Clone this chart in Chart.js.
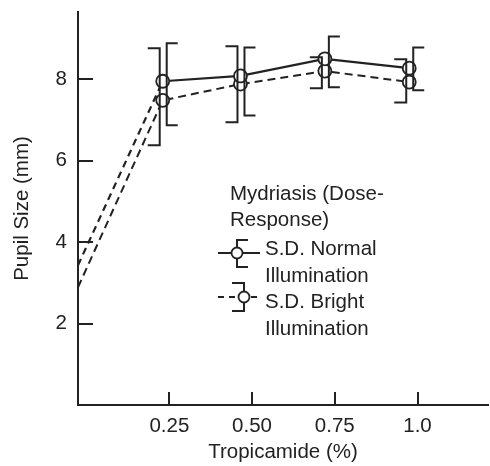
<!DOCTYPE html>
<html>
<head>
<meta charset="utf-8">
<script src="https://cdn.jsdelivr.net/npm/chart.js@4.4.1/dist/chart.umd.min.js"></script>
<style>
  html, body { margin: 0; padding: 0; background: #fff; }
</style>
</head>
<body>
<canvas id="chart" width="490" height="466"></canvas>
<script>
// Mydriasis dose-response: pupil size vs tropicamide concentration
const doses = [-0.026, 0.23, 0.465, 0.72, 0.975];
const normalMean = [3.43, 7.95, 8.08, 8.50, 8.27];
const normalHigh = [null, 8.88, 8.78, 9.05, 8.78];
const normalLow  = [null, 6.87, 7.11, 7.80, 7.73];
const brightMean = [2.89, 7.48, 7.88, 8.20, 7.93];
const brightHigh = [null, 8.76, 8.81, 8.54, 8.49];
const brightLow  = [null, 6.38, 6.94, 7.78, 7.43];

const xTicks = [0.25, 0.5, 0.75, 1.0];
const xTickLabels = ['0.25', '0.50', '0.75', '1.0'];
const yTicks = [2, 4, 6, 8];

const legendTitle = ['Mydriasis (Dose-', 'Response)'];
const legendNormal = ['S.D. Normal', 'Illumination'];
const legendBright = ['S.D. Bright', 'Illumination'];

const INK = '#222';
const FONT = '"Liberation Sans", Arial, Helvetica, sans-serif';

// S.D. brackets: normal opens right "[", bright opens left "]"
const brackets = [
  { high: normalHigh, low: normalLow, offset: 4, cap: 11 },
  { high: brightHigh, low: brightLow, offset: -3, cap: -12 }
];

const sdBrackets = {
  id: 'sdBrackets',
  afterDatasetsDraw(chart) {
    const { ctx, scales: { x, y } } = chart;
    ctx.save();
    ctx.strokeStyle = INK;
    ctx.lineWidth = 2;
    brackets.forEach(b => {
      doses.forEach((d, i) => {
        if (b.high[i] == null) return;
        const px = x.getPixelForValue(d) + b.offset;
        const yh = y.getPixelForValue(b.high[i]);
        const yl = y.getPixelForValue(b.low[i]);
        ctx.beginPath();
        ctx.moveTo(px + b.cap, yh);
        ctx.lineTo(px, yh);
        ctx.lineTo(px, yl);
        ctx.lineTo(px + b.cap, yl);
        ctx.stroke();
      });
    });
    ctx.restore();
  }
};

// tick marks pointing into the plot
const innerTicks = {
  id: 'innerTicks',
  afterDraw(chart) {
    const { ctx, chartArea: a, scales: { x, y } } = chart;
    ctx.save();
    ctx.strokeStyle = INK;
    ctx.lineWidth = 2;
    ctx.beginPath();
    y.ticks.forEach(t => {
      const py = Math.round(y.getPixelForValue(t.value));
      ctx.moveTo(a.left, py);
      ctx.lineTo(a.left + 15, py);
    });
    x.ticks.forEach(t => {
      const px = Math.round(x.getPixelForValue(t.value));
      ctx.moveTo(px, a.bottom);
      ctx.lineTo(px, a.bottom - 13);
    });
    ctx.stroke();
    ctx.restore();
  }
};

function drawCircle(ctx, cx, cy, r) {
  ctx.beginPath();
  ctx.arc(cx, cy, r, 0, Math.PI * 2);
  ctx.fillStyle = '#fff';
  ctx.fill();
  ctx.stroke();
}

const doseLegend = {
  id: 'doseLegend',
  afterDraw(chart) {
    const ctx = chart.ctx;
    ctx.save();
    ctx.fillStyle = INK;
    ctx.strokeStyle = INK;
    ctx.font = '20.5px ' + FONT;
    ctx.textBaseline = 'middle';
    ctx.textAlign = 'left';
    legendTitle.forEach((s, i) => ctx.fillText(s, 230, 194 + i * 26));
    legendNormal.forEach((s, i) => ctx.fillText(s, 265, 249 + i * 27));
    legendBright.forEach((s, i) => ctx.fillText(s, 265, 302 + i * 27));

    ctx.lineWidth = 2;
    // normal symbol
    ctx.beginPath();
    ctx.moveTo(218, 253); ctx.lineTo(260, 253);
    ctx.moveTo(248, 240); ctx.lineTo(237, 240); ctx.lineTo(237, 267); ctx.lineTo(248, 267);
    ctx.stroke();
    ctx.lineWidth = 1.8;
    drawCircle(ctx, 237, 253, 5.5);

    // bright symbol
    ctx.lineWidth = 2;
    ctx.beginPath();
    ctx.setLineDash([6, 5]);
    ctx.moveTo(218, 297); ctx.lineTo(258, 297);
    ctx.stroke();
    ctx.setLineDash([]);
    ctx.beginPath();
    ctx.moveTo(232, 283); ctx.lineTo(244, 283); ctx.lineTo(244, 311); ctx.lineTo(232, 311);
    ctx.stroke();
    ctx.lineWidth = 1.8;
    drawCircle(ctx, 244, 297, 5.5);
    ctx.restore();
  }
};

const firstDashed = ctx => ctx.p0DataIndex === 0 ? [7, 5] : undefined;
const hideFirst = ctx => ctx.dataIndex === 0 ? 0 : 6.5;

new Chart(document.getElementById('chart'), {
  type: 'line',
  data: {
    datasets: [
      {
        label: 'S.D. Normal Illumination',
        data: doses.map((d, i) => ({ x: d, y: normalMean[i] })),
        borderColor: INK,
        borderWidth: 2.2,
        segment: { borderDash: firstDashed },
        pointRadius: hideFirst,
        pointBackgroundColor: '#fff',
        pointBorderColor: INK,
        pointBorderWidth: 1.8,
        tension: 0
      },
      {
        label: 'S.D. Bright Illumination',
        data: doses.map((d, i) => ({ x: d, y: brightMean[i] })),
        borderColor: INK,
        borderWidth: 2,
        borderDash: [8, 5],
        pointRadius: hideFirst,
        pointBackgroundColor: '#fff',
        pointBorderColor: INK,
        pointBorderWidth: 1.8,
        tension: 0
      }
    ]
  },
  options: {
    responsive: false,
    animation: false,
    layout: { autoPadding: false, padding: { top: 12, right: 2, left: 0, bottom: 0 } },
    plugins: {
      legend: { display: false },
      tooltip: { enabled: false }
    },
    scales: {
      x: {
        type: 'linear',
        min: -0.026,
        max: 1.213,
        afterBuildTicks: s => { s.ticks = xTicks.map(v => ({ value: v })); },
        afterFit: s => { s.height = 61; s.paddingLeft = 0; s.paddingRight = 0; },
        grid: { display: false, drawTicks: false },
        border: { display: true, color: INK, width: 2 },
        ticks: {
          color: INK,
          font: { family: FONT, size: 20.5 },
          padding: 9,
          maxRotation: 0,
          autoSkip: false,
          callback: v => xTickLabels[xTicks.indexOf(v)]
        },
        title: {
          display: true,
          text: 'Tropicamide (%)',
          color: INK,
          font: { family: FONT, size: 20.5 },
          padding: { top: 0, bottom: 1 }
        }
      },
      y: {
        min: 0,
        max: 9.65,
        afterBuildTicks: s => { s.ticks = yTicks.map(v => ({ value: v })); },
        afterFit: s => { s.width = 78; s.paddingTop = 0; s.paddingBottom = 0; },
        grid: { display: false, drawTicks: false },
        border: { display: true, color: INK, width: 2 },
        ticks: {
          color: INK,
          font: { family: FONT, size: 20.5 },
          padding: 11
        },
        title: {
          display: true,
          text: 'Pupil Size (mm)',
          color: INK,
          font: { family: FONT, size: 20.5 },
          padding: { top: 10, bottom: 0 }
        }
      }
    }
  },
  plugins: [sdBrackets, innerTicks, doseLegend]
});
</script>
</body>
</html>
